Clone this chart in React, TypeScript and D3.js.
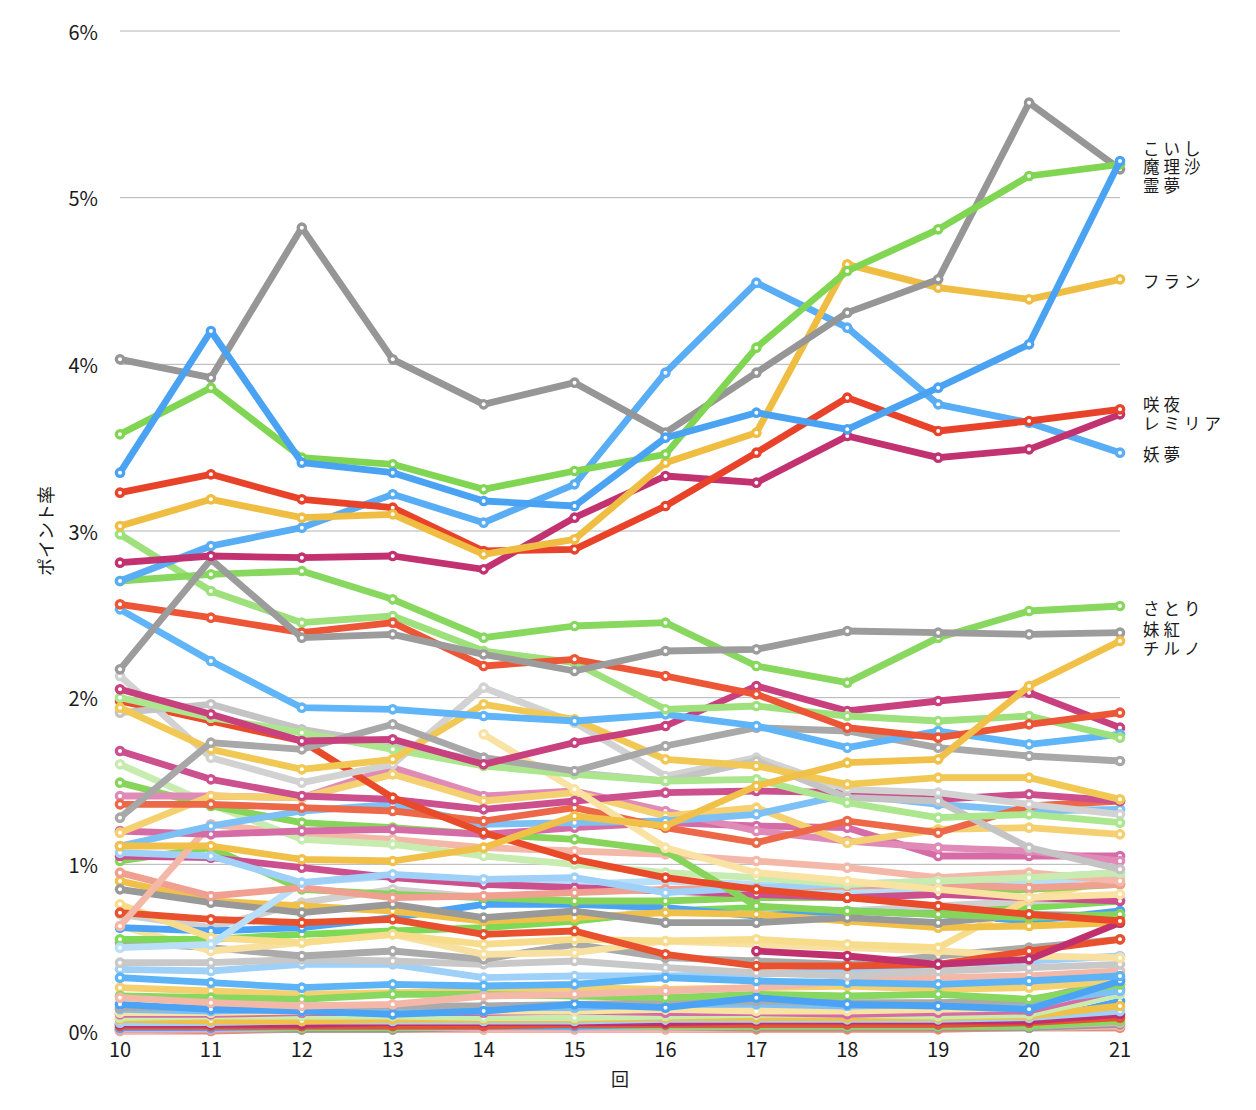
import React from 'react'
import * as d3 from 'd3'

const rounds = [10, 11, 12, 13, 14, 15, 16, 17, 18, 19, 20, 21]
const yTicks = [0, 1, 2, 3, 4, 5, 6]

// labelled characters (point share, %)
const reimu = [4.03, 3.92, 4.82, 4.03, 3.76, 3.89, 3.59, 3.95, 4.31, 4.51, 5.57, 5.17]
const marisa = [3.58, 3.86, 3.44, 3.40, 3.25, 3.36, 3.46, 4.10, 4.56, 4.81, 5.13, 5.20]
const koishi = [3.35, 4.20, 3.41, 3.35, 3.18, 3.15, 3.56, 3.71, 3.61, 3.86, 4.12, 5.22]
const flan = [3.03, 3.19, 3.08, 3.10, 2.86, 2.95, 3.41, 3.59, 4.60, 4.46, 4.39, 4.51]
const sakuya = [3.23, 3.34, 3.19, 3.14, 2.88, 2.89, 3.15, 3.47, 3.80, 3.60, 3.66, 3.73]
const remilia = [2.81, 2.85, 2.84, 2.85, 2.77, 3.08, 3.33, 3.29, 3.57, 3.44, 3.49, 3.70]
const youmu = [2.70, 2.91, 3.02, 3.22, 3.05, 3.28, 3.95, 4.49, 4.22, 3.76, 3.65, 3.47]
const satori = [2.70, 2.74, 2.76, 2.59, 2.36, 2.43, 2.45, 2.19, 2.09, 2.36, 2.52, 2.55]
const mokou = [2.17, 2.83, 2.36, 2.38, 2.26, 2.16, 2.28, 2.29, 2.40, 2.39, 2.38, 2.39]
const cirno = [1.11, 1.11, 1.03, 1.02, 1.10, 1.29, 1.23, 1.47, 1.61, 1.63, 2.07, 2.34]

const namedLabels = ['さとり', '妹紅', 'チルノ', '妖夢', 'レミリア', '咲夜', 'フラン', '霊夢', '魔理沙', 'こいし']
const namedValues = [satori, mokou, cirno, youmu, remilia, sakuya, flan, reimu, marisa, koishi]
const namedColors = ['#88d860', '#9c9c9c', '#f0c048', '#58adf5', '#c23271', '#e8432a', '#efbd42', '#969696', '#80d652', '#4aa2f3']

// unlabelled characters, 1.5% - 3% band
const midValues = [
  [1.98, 1.86, 1.74, 1.40, 1.19, 1.03, 0.92, 0.85, 0.80, 0.75, 0.70, 0.66],
  [null, null, null, null, 1.78, 1.45, 1.10, 0.95, 0.90, 0.85, 0.80, 0.82],
  [2.13, 1.64, 1.49, 1.60, 2.06, 1.85, 1.53, 1.64, 1.45, 1.43, 1.36, 1.30],
  [1.91, 1.96, 1.81, 1.72, 1.62, 1.55, 1.50, 1.62, 1.40, 1.38, 1.10, 0.97],
  [2.00, 1.88, 1.79, 1.69, 1.59, 1.54, 1.50, 1.51, 1.37, 1.28, 1.30, 1.25],
  [1.94, 1.69, 1.57, 1.63, 1.96, 1.87, 1.63, 1.59, 1.48, 1.52, 1.52, 1.39],
  [1.28, 1.73, 1.69, 1.84, 1.64, 1.56, 1.71, 1.82, 1.80, 1.70, 1.65, 1.62],
  [2.05, 1.90, 1.74, 1.75, 1.60, 1.73, 1.83, 2.07, 1.92, 1.98, 2.03, 1.82],
  [2.53, 2.22, 1.94, 1.93, 1.89, 1.86, 1.90, 1.83, 1.70, 1.80, 1.72, 1.78],
  [2.98, 2.64, 2.45, 2.49, 2.28, 2.21, 1.93, 1.95, 1.89, 1.86, 1.89, 1.76],
  [2.56, 2.48, 2.39, 2.45, 2.19, 2.23, 2.13, 2.02, 1.82, 1.76, 1.84, 1.91],
]
const midColors = ['#e84a2a', '#f9e2a2', '#d2d2d2', '#c4c4c4', '#ace68e', '#f2c855', '#a8a8a8', '#c8407e', '#5fb5f7', '#9ee07c', '#ec5535']

// unlabelled characters, 0.2% - 1.7% band
const lowValues = [
  [0.26, 0.24, 0.22, 0.23, 0.24, 0.26, 0.25, 0.26, 0.27, 0.25, 0.26, 0.30],
  [0.21, 0.20, 0.19, 0.22, 0.22, 0.21, 0.20, 0.22, 0.21, 0.22, 0.19, 0.28],
  [0.16, 0.13, 0.12, 0.10, 0.12, 0.16, 0.14, 0.20, 0.16, 0.15, 0.13, 0.30],
  [0.20, 0.17, 0.15, 0.16, 0.21, 0.22, 0.24, 0.26, 0.30, 0.32, 0.33, 0.36],
  [0.37, 0.36, 0.40, 0.40, 0.32, 0.33, 0.33, 0.34, 0.36, 0.40, 0.42, 0.45],
  [0.32, 0.29, 0.26, 0.28, 0.27, 0.28, 0.32, 0.30, 0.29, 0.28, 0.30, 0.33],
  [0.41, 0.41, 0.43, 0.42, 0.40, 0.42, 0.38, 0.35, 0.33, 0.36, 0.38, 0.40],
  [0.53, 0.50, 0.45, 0.48, 0.43, 0.52, 0.44, 0.42, 0.40, 0.45, 0.50, 0.55],
  [0.63, 0.48, 0.53, 0.58, 0.46, 0.47, 0.54, 0.52, 0.50, 0.48, 0.45, 0.44],
  [0.55, 0.55, 0.58, 0.60, 0.62, 0.66, 0.72, 0.74, 0.72, 0.72, 0.74, 0.78],
  [0.70, 0.62, 0.77, 0.85, 0.80, 0.78, 0.72, 0.70, 0.72, 0.75, 0.78, 0.80],
  [0.62, 0.60, 0.62, 0.68, 0.76, 0.76, 0.74, 0.69, 0.72, 0.70, 0.66, 0.72],
  [0.76, 0.56, 0.53, 0.58, 0.52, 0.55, 0.54, 0.55, 0.52, 0.50, 0.79, 0.92],
  [0.90, 0.78, 0.75, 0.72, 0.66, 0.68, 0.71, 0.70, 0.66, 0.62, 0.63, 0.65],
  [0.85, 0.77, 0.71, 0.76, 0.68, 0.72, 0.65, 0.65, 0.68, 0.65, 0.70, 0.69],
  [0.71, 0.67, 0.65, 0.67, 0.58, 0.60, 0.46, 0.39, 0.39, 0.40, 0.48, 0.55],
  [null, null, null, null, null, null, null, 0.48, 0.45, 0.40, 0.43, 0.65],
  [0.50, 0.52, 0.89, 0.93, 0.88, 0.88, 0.90, 0.88, 0.84, 0.86, 0.89, 0.93],
  [1.02, 1.10, 0.85, 0.82, 0.80, 0.78, 0.78, 0.80, 0.80, 0.82, 0.85, 0.88],
  [1.05, 1.04, 0.98, 0.92, 0.88, 0.86, 0.84, 0.82, 0.80, 0.82, 0.80, 0.78],
  [0.95, 0.81, 0.86, 0.80, 0.81, 0.83, 0.85, 0.86, 0.87, 0.88, 0.86, 0.88],
  [1.07, 1.05, 0.89, 0.94, 0.91, 0.92, 0.83, 0.86, 0.88, 0.90, 0.92, 0.95],
  [0.63, 1.24, 1.18, 1.15, 1.10, 1.08, 1.06, 1.02, 0.98, 0.92, 0.95, 0.90],
  [1.60, 1.36, 1.15, 1.12, 1.05, 1.00, 0.95, 0.92, 0.88, 0.90, 0.92, 0.95],
  [1.49, 1.35, 1.25, 1.22, 1.18, 1.15, 1.08, 0.75, 0.72, 0.70, 0.68, 0.70],
  [1.20, 1.18, 1.20, 1.21, 1.18, 1.22, 1.25, 1.23, 1.22, 1.05, 1.05, 1.05],
  [1.41, 1.41, 1.40, 1.58, 1.41, 1.44, 1.32, 1.20, 1.14, 1.10, 1.08, 1.02],
  [1.19, 1.41, 1.40, 1.54, 1.38, 1.43, 1.29, 1.34, 1.13, 1.21, 1.22, 1.18],
  [1.11, 1.23, 1.32, 1.36, 1.24, 1.25, 1.26, 1.30, 1.42, 1.36, 1.32, 1.33],
  [1.36, 1.36, 1.34, 1.32, 1.26, 1.34, 1.22, 1.13, 1.26, 1.19, 1.35, 1.38],
  [1.68, 1.51, 1.41, 1.39, 1.33, 1.38, 1.43, 1.44, 1.43, 1.39, 1.42, 1.38],
]
const lowColors = [
  '#f5d070', '#88d860', '#4aa3f5', '#f4b8a8', '#9fd0f8', '#5cb4f7', '#c8c8c8', '#aaaaaa',
  '#f8e0a0', '#7ed957', '#d0d0d0', '#4aa3f5', '#f7dc8c', '#f0c048', '#999999', '#e8502e',
  '#c0306f', '#b8def8', '#86d45a', '#cc4f8e', '#f0a090', '#9fd0f8', '#f4b8a8', '#c8ecb0',
  '#86d45a', '#d66ca6', '#e08ab8', '#f5d070', '#7cc0f5', '#ec6848', '#cc4f8e',
]

// unlabelled characters hugging the floor
const floorValues = [
  [0.00, 0.00, 0.01, 0.01, 0.01, 0.01, 0.01, 0.01, 0.01, 0.01, 0.02, 0.02],
  [0.00, 0.01, 0.01, 0.01, 0.01, 0.01, 0.01, 0.02, 0.02, 0.02, 0.02, 0.03],
  [0.01, 0.01, 0.01, 0.01, 0.02, 0.02, 0.02, 0.02, 0.02, 0.02, 0.02, 0.04],
  [0.01, 0.01, 0.02, 0.02, 0.02, 0.02, 0.02, 0.03, 0.03, 0.03, 0.03, 0.05],
  [0.02, 0.02, 0.02, 0.02, 0.03, 0.03, 0.03, 0.03, 0.03, 0.03, 0.03, 0.06],
  [0.02, 0.02, 0.03, 0.03, 0.03, 0.03, 0.04, 0.04, 0.04, 0.04, 0.05, 0.18],
  [0.03, 0.03, 0.03, 0.03, 0.03, 0.04, 0.04, 0.04, 0.04, 0.04, 0.05, 0.08],
  [0.04, 0.04, 0.04, 0.05, 0.05, 0.05, 0.05, 0.06, 0.06, 0.06, 0.06, 0.10],
  [0.05, 0.05, 0.06, 0.06, 0.06, 0.06, 0.07, 0.07, 0.07, 0.07, 0.08, 0.12],
  [0.07, 0.06, 0.06, 0.07, 0.07, 0.07, 0.08, 0.08, 0.08, 0.08, 0.09, 0.15],
  [0.08, 0.09, 0.09, 0.09, 0.08, 0.08, 0.09, 0.10, 0.10, 0.09, 0.10, 0.22],
  [0.10, 0.10, 0.11, 0.11, 0.11, 0.12, 0.11, 0.11, 0.10, 0.11, 0.12, 0.25],
  [0.11, 0.11, 0.12, 0.12, 0.12, 0.12, 0.13, 0.12, 0.12, 0.13, 0.14, 0.28],
  [0.13, 0.12, 0.13, 0.13, 0.14, 0.14, 0.16, 0.16, 0.15, 0.16, 0.17, 0.24],
  [0.14, 0.14, 0.15, 0.15, 0.15, 0.16, 0.17, 0.18, 0.17, 0.17, 0.18, 0.31],
]
const floorColors = [
  '#f08870', '#f4b8a8', '#999999', '#e4a8c8', '#88d860', '#4aa3f5', '#e8502e', '#c0306f',
  '#9fd0f8', '#f0c048', '#c8ecb0', '#d66ca6', '#f9e2a2', '#7cc0f5', '#aaaaaa',
]

const font = '"Noto Sans CJK JP", "Noto Sans", sans-serif'

type Series = { values: (number | null)[]; color: string }

// push end labels apart: overlapping ones form a group centred on their mean
function spreadLabels(items: { name: string; color: string; y: number }[], gap: number) {
  const sorted = [...items].sort((a, b) => a.y - b.y)
  const groups = sorted.map((d) => ({ members: [d], top: d.y }))
  let changed = true
  while (changed) {
    changed = false
    for (let i = 0; i < groups.length - 1; i++) {
      const a = groups[i]
      const b = groups[i + 1]
      const aBottom = a.top + (a.members.length - 1) * gap
      if (b.top - aBottom < gap) {
        const members = [...a.members, ...b.members]
        const mean = d3.mean(members, (m) => m.y) as number
        groups.splice(i, 2, { members, top: mean - ((members.length - 1) * gap) / 2 })
        changed = true
        break
      }
    }
  }
  return groups.flatMap((g) => g.members.map((m, i) => ({ ...m, ly: g.top + i * gap })))
}

export default function App() {
  const width = 1256
  const height = 1110

  const x = d3.scaleLinear().domain([10, 21]).range([120, 1120])
  const y = d3.scaleLinear().domain([0, 6]).range([1031, 31])

  const line = d3.line<number | null>()
    .defined((d) => d != null)
    .x((_, i) => x(rounds[i]))
    .y((d) => y(d as number))

  const series: Series[] = [
    ...floorValues.map((values, i) => ({ values, color: floorColors[i] })),
    ...lowValues.map((values, i) => ({ values, color: lowColors[i] })),
    ...midValues.map((values, i) => ({ values, color: midColors[i] })),
    ...namedValues.map((values, i) => ({ values, color: namedColors[i] })),
  ]

  const labels = spreadLabels(
    namedValues.map((values, i) => ({
      name: namedLabels[i],
      color: namedColors[i],
      y: y(values[values.length - 1] as number),
    })),
    18.5,
  )

  return (
    <svg
      width={width}
      height={height}
      style={{ position: 'absolute', left: 0, top: 0, display: 'block', background: '#fff' }}
      fontFamily={font}
    >
      {yTicks.map((t) => (
        <g key={t}>
          <line x1={x(10)} x2={x(21)} y1={y(t)} y2={y(t)} stroke="#b4b4b4" strokeWidth={1} />
          <text x={98} y={y(t)} textAnchor="end" dominantBaseline="central" fontSize={20} fill="#1a1a1a">
            {t}%
          </text>
        </g>
      ))}

      {series.map((s, i) => (
        <g key={i}>
          <path
            d={line(s.values) || ''}
            fill="none"
            stroke={s.color}
            strokeWidth={6.8}
            strokeLinejoin="round"
            strokeLinecap="round"
          />
          {s.values.map((v, j) =>
            v == null ? null : (
              <g key={j}>
                <circle cx={x(rounds[j])} cy={y(v)} r={5.3} fill={s.color} />
                <circle cx={x(rounds[j])} cy={y(v)} r={2} fill="#fff" />
              </g>
            ),
          )}
        </g>
      ))}

      {rounds.map((r) => (
        <text key={r} x={x(r)} y={1048} textAnchor="middle" dominantBaseline="central" fontSize={20} fill="#1a1a1a">
          {r}
        </text>
      ))}

      <text x={620} y={1078} textAnchor="middle" dominantBaseline="central" fontSize={18} fill="#1a1a1a">
        回
      </text>
      <text
        transform={`translate(45, ${y(3)}) rotate(-90)`}
        textAnchor="middle"
        dominantBaseline="central"
        fontSize={18}
        fill="#1a1a1a"
      >
        ポイント率
      </text>

      {labels.map((l) => (
        <text
          key={l.name}
          x={1143}
          y={l.ly + 1.5}
          dominantBaseline="central"
          fontSize={16.5}
          letterSpacing={4}
          fill="#1a1a1a"
        >
          {l.name}
        </text>
      ))}
    </svg>
  )
}
